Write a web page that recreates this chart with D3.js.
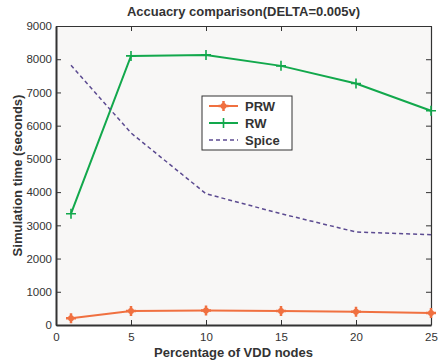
<!DOCTYPE html>
<html>
<head>
<meta charset="utf-8">
<script src="https://cdn.jsdelivr.net/npm/d3@7"></script>
<style>
  body { margin: 0; background: #fff; }
  svg { font-family: "Liberation Sans", Arial, sans-serif; }
</style>
</head>
<body>
<div id="chart"></div>
<script>
const WIDTH = 439;
const HEIGHT = 362;
const margin = { top: 26, right: 8, bottom: 37, left: 56 };

const xValues = [1, 5, 10, 15, 20, 25];
const prw = [200, 420, 440, 420, 400, 360];
const rw = [3350, 8100, 8130, 7800, 7270, 6450];
const spice = [7820, 5780, 3950, 3350, 2800, 2720];
const xTicks = [0, 5, 10, 15, 20, 25];
const yTicks = [0, 1000, 2000, 3000, 4000, 5000, 6000, 7000, 8000, 9000];

const series = [
  { name: 'PRW', values: prw, color: '#f07040', marker: true, dash: null },
  { name: 'RW', values: rw, color: '#12a84c', marker: true, dash: null },
  { name: 'Spice', values: spice, color: '#5c4b91', marker: false, dash: '4,3' },
];

const w = WIDTH - margin.left - margin.right;
const h = HEIGHT - margin.top - margin.bottom;

const svg = d3.select('#chart').append('svg')
  .attr('width', WIDTH).attr('height', HEIGHT);

const g = svg.append('g')
  .attr('transform', `translate(${margin.left}, ${margin.top})`);

const x = d3.scaleLinear().domain([0, 25]).range([0, w]);
const y = d3.scaleLinear().domain([0, 9000]).range([h, 0]);

g.append('rect').attr('width', w).attr('height', h).attr('fill', '#f8f7f6');

// axes, ticks pointing inward
const axisColor = '#333';
const xAxis = g.append('g').attr('transform', `translate(0, ${h})`)
  .call(d3.axisBottom(x).tickValues(xTicks).tickFormat(d3.format('d'))
    .tickSizeInner(-5).tickSizeOuter(0).tickPadding(8));
const yAxis = g.append('g')
  .call(d3.axisLeft(y).tickValues(yTicks).tickFormat(d3.format('d'))
    .tickSizeInner(-5).tickSizeOuter(0).tickPadding(4));
g.append('g')
  .call(d3.axisTop(x).tickValues(xTicks).tickSizeInner(-5).tickSizeOuter(0).tickFormat(''));
g.append('g').attr('transform', `translate(${w}, 0)`)
  .call(d3.axisRight(y).tickValues(yTicks).tickSizeInner(-5).tickSizeOuter(0).tickFormat(''));

g.selectAll('.domain').attr('stroke', axisColor).attr('stroke-width', 1.2);
g.selectAll('.tick line').attr('stroke', axisColor);
g.selectAll('.tick text').attr('fill', '#333').style('font-size', '11.5px');
xAxis.select('.domain').attr('stroke-width', 2);
yAxis.select('.domain').attr('stroke-width', 2);

// lines
const line = d3.line()
  .x((d, i) => x(xValues[i]))
  .y(d => y(d));

series.forEach(s => {
  g.append('path')
    .datum(s.values)
    .attr('fill', 'none')
    .attr('stroke', s.color)
    .attr('stroke-width', s.dash ? 1.5 : 2)
    .attr('stroke-dasharray', s.dash)
    .attr('d', line);
  if (s.marker) {
    const pts = g.append('g');
    s.values.forEach((v, i) => {
      drawPlus(pts, x(xValues[i]), y(v), s.color, s.name === 'PRW');
    });
  }
});

function drawPlus(sel, cx, cy, color, heavy) {
  const r = 5;
  sel.append('path')
    .attr('d', `M${cx - r},${cy}H${cx + r}M${cx},${cy - r}V${cy + r}`)
    .attr('stroke', color)
    .attr('stroke-width', heavy ? 2.5 : 1.6);
  if (heavy) {
    sel.append('circle').attr('cx', cx).attr('cy', cy).attr('r', 3).attr('fill', color);
  }
}

// legend
const legend = svg.append('g').attr('transform', 'translate(202, 96)');
legend.append('rect').attr('width', 90).attr('height', 54)
  .attr('fill', '#fff').attr('stroke', '#333').attr('stroke-width', 1);
series.forEach((s, i) => {
  const ly = 10 + i * 17;
  legend.append('line')
    .attr('x1', 7).attr('x2', 36).attr('y1', ly).attr('y2', ly)
    .attr('stroke', s.color)
    .attr('stroke-width', s.dash ? 1.5 : 2)
    .attr('stroke-dasharray', s.dash);
  if (s.marker) drawPlus(legend, 21.5, ly, s.color, s.name === 'PRW');
  legend.append('text')
    .attr('x', 43).attr('y', ly).attr('dy', '0.35em')
    .attr('font-size', 13).attr('font-weight', 'bold').attr('fill', '#333')
    .text(s.name);
});

// title and labels
svg.append('text')
  .attr('x', margin.left + w / 2).attr('y', 16)
  .attr('text-anchor', 'middle').attr('font-size', 13).attr('font-weight', 'bold')
  .attr('fill', '#333')
  .text('Accuacry comparison(DELTA=0.005v)');

svg.append('text')
  .attr('x', margin.left + w / 2 - 10).attr('y', 357)
  .attr('text-anchor', 'middle').attr('font-size', 13).attr('font-weight', 'bold')
  .attr('fill', '#333')
  .text('Percentage of VDD nodes');

svg.append('text')
  .attr('transform', `translate(22, ${margin.top + h / 2}) rotate(-90)`)
  .attr('text-anchor', 'middle').attr('font-size', 13).attr('font-weight', 'bold')
  .attr('fill', '#333')
  .text('Simulation time (seconds)');
</script>
</body>
</html>
